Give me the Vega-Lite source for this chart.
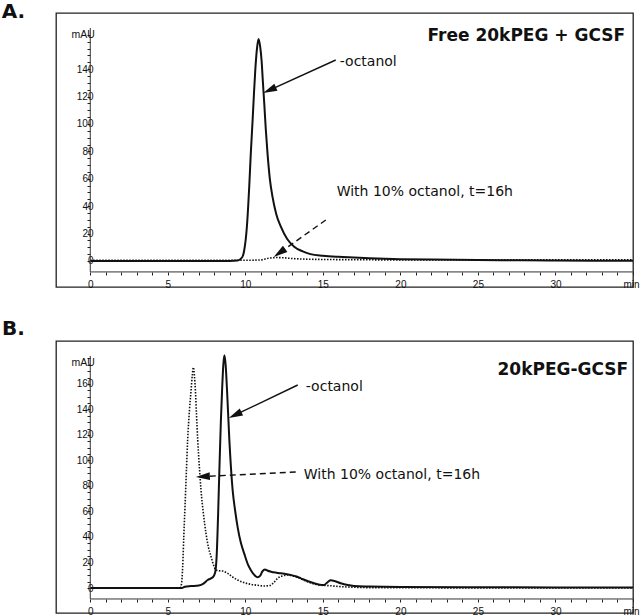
{
  "$schema": "https://vega.github.io/schema/vega-lite/v6.json",
  "background": "white",
  "padding": {"left": 0, "top": 1, "right": 0, "bottom": 0},
  "autosize": {"type": "pad"},
  "spacing": 54,
  "bounds": "flush",
  "config": {
    "view": {"stroke": "#222", "strokeWidth": 1.3},
    "font": "Liberation Sans",
    "axis": {"domain": false, "grid": false, "tickColor": "#222", "tickSize": 3, "labelFont": "Liberation Sans", "labelFontSize": 10, "labelColor": "#111", "labelOverlap": false, "labelFlush": false, "labelBound": false, "title": null}
  },
  "datasets": {
    "a": [
      {"t": 0, "v": 0, "s": "solid"}, {"t": 5, "v": 0, "s": "solid"}, {"t": 9.0, "v": 0, "s": "solid"}, {"t": 9.5, "v": 0.3, "s": "solid"},
      {"t": 9.7, "v": 1.5, "s": "solid"}, {"t": 9.85, "v": 4, "s": "solid"}, {"t": 9.93, "v": 8, "s": "solid"}, {"t": 10.1, "v": 25, "s": "solid"},
      {"t": 10.25, "v": 54, "s": "solid"}, {"t": 10.35, "v": 78, "s": "solid"}, {"t": 10.47, "v": 103, "s": "solid"}, {"t": 10.56, "v": 123, "s": "solid"},
      {"t": 10.64, "v": 139, "s": "solid"}, {"t": 10.75, "v": 155, "s": "solid"}, {"t": 10.85, "v": 162, "s": "solid"}, {"t": 10.95, "v": 157, "s": "solid"},
      {"t": 11.05, "v": 146, "s": "solid"}, {"t": 11.13, "v": 131, "s": "solid"}, {"t": 11.22, "v": 115, "s": "solid"}, {"t": 11.32, "v": 96, "s": "solid"},
      {"t": 11.43, "v": 78.5, "s": "solid"}, {"t": 11.58, "v": 60, "s": "solid"}, {"t": 11.75, "v": 47, "s": "solid"}, {"t": 12.0, "v": 34, "s": "solid"},
      {"t": 12.29, "v": 25, "s": "solid"}, {"t": 12.7, "v": 16, "s": "solid"}, {"t": 13.15, "v": 10.4, "s": "solid"}, {"t": 13.7, "v": 7, "s": "solid"},
      {"t": 14.2, "v": 5, "s": "solid"}, {"t": 15, "v": 3.8, "s": "solid"}, {"t": 16, "v": 3, "s": "solid"}, {"t": 17, "v": 2.5, "s": "solid"},
      {"t": 18, "v": 2, "s": "solid"}, {"t": 20, "v": 1.3, "s": "solid"}, {"t": 22, "v": 1, "s": "solid"}, {"t": 25, "v": 0.7, "s": "solid"},
      {"t": 28, "v": 0.5, "s": "solid"}, {"t": 30, "v": 0.3, "s": "solid"}, {"t": 35, "v": 0.2, "s": "solid"},
      {"t": 0, "v": 0.5, "s": "dotted"}, {"t": 10, "v": 0.5, "s": "dotted"}, {"t": 11, "v": 0.8, "s": "dotted"}, {"t": 11.5, "v": 2, "s": "dotted"},
      {"t": 12, "v": 2.5, "s": "dotted"}, {"t": 12.5, "v": 2.3, "s": "dotted"}, {"t": 13, "v": 1.8, "s": "dotted"}, {"t": 14, "v": 1.3, "s": "dotted"},
      {"t": 16, "v": 1, "s": "dotted"}, {"t": 20, "v": 0.8, "s": "dotted"}, {"t": 35, "v": 0.8, "s": "dotted"}
    ],
    "b": [
      {"t": 0, "v": 0, "s": "solid"}, {"t": 5.9, "v": 0, "s": "solid"}, {"t": 6.1, "v": 1, "s": "solid"}, {"t": 6.5, "v": 1.5, "s": "solid"},
      {"t": 7.0, "v": 2, "s": "solid"}, {"t": 7.3, "v": 3.5, "s": "solid"}, {"t": 7.57, "v": 6.3, "s": "solid"}, {"t": 7.9, "v": 8.4, "s": "solid"},
      {"t": 8.05, "v": 12, "s": "solid"}, {"t": 8.15, "v": 25, "s": "solid"}, {"t": 8.25, "v": 60, "s": "solid"}, {"t": 8.32, "v": 90, "s": "solid"},
      {"t": 8.42, "v": 130, "s": "solid"}, {"t": 8.5, "v": 155, "s": "solid"}, {"t": 8.58, "v": 175, "s": "solid"}, {"t": 8.65, "v": 182.5, "s": "solid"},
      {"t": 8.73, "v": 175, "s": "solid"}, {"t": 8.82, "v": 155, "s": "solid"}, {"t": 8.97, "v": 116, "s": "solid"}, {"t": 9.18, "v": 77, "s": "solid"},
      {"t": 9.35, "v": 60, "s": "solid"}, {"t": 9.5, "v": 48, "s": "solid"}, {"t": 9.7, "v": 36, "s": "solid"}, {"t": 9.93, "v": 27, "s": "solid"},
      {"t": 10.15, "v": 19, "s": "solid"}, {"t": 10.36, "v": 14, "s": "solid"}, {"t": 10.6, "v": 10, "s": "solid"}, {"t": 10.79, "v": 8.4, "s": "solid"},
      {"t": 10.95, "v": 9.5, "s": "solid"}, {"t": 11.1, "v": 13, "s": "solid"}, {"t": 11.26, "v": 14.6, "s": "solid"}, {"t": 11.45, "v": 13.5, "s": "solid"},
      {"t": 11.65, "v": 12.8, "s": "solid"}, {"t": 12.0, "v": 12, "s": "solid"}, {"t": 12.29, "v": 11.5, "s": "solid"}, {"t": 12.6, "v": 11, "s": "solid"},
      {"t": 12.93, "v": 10.2, "s": "solid"}, {"t": 13.3, "v": 9, "s": "solid"}, {"t": 13.58, "v": 7.6, "s": "solid"}, {"t": 14.0, "v": 5.5, "s": "solid"},
      {"t": 14.43, "v": 3.7, "s": "solid"}, {"t": 14.8, "v": 2.6, "s": "solid"}, {"t": 15.08, "v": 2.4, "s": "solid"}, {"t": 15.3, "v": 4.5, "s": "solid"},
      {"t": 15.5, "v": 6, "s": "solid"}, {"t": 15.75, "v": 5.5, "s": "solid"}, {"t": 16.15, "v": 3.7, "s": "solid"}, {"t": 16.6, "v": 2.3, "s": "solid"},
      {"t": 17.0, "v": 1.6, "s": "solid"}, {"t": 18, "v": 1.2, "s": "solid"}, {"t": 20, "v": 0.8, "s": "solid"}, {"t": 25, "v": 0.6, "s": "solid"},
      {"t": 30, "v": 0.4, "s": "solid"}, {"t": 35, "v": 0.3, "s": "solid"},
      {"t": 0, "v": 0, "s": "dotted"}, {"t": 5.8, "v": 0, "s": "dotted"}, {"t": 5.88, "v": 3, "s": "dotted"}, {"t": 5.96, "v": 16.7, "s": "dotted"},
      {"t": 6.03, "v": 40, "s": "dotted"}, {"t": 6.11, "v": 64, "s": "dotted"}, {"t": 6.2, "v": 92, "s": "dotted"}, {"t": 6.28, "v": 116, "s": "dotted"},
      {"t": 6.4, "v": 140, "s": "dotted"}, {"t": 6.5, "v": 155, "s": "dotted"}, {"t": 6.58, "v": 167, "s": "dotted"}, {"t": 6.65, "v": 173, "s": "dotted"},
      {"t": 6.72, "v": 166, "s": "dotted"}, {"t": 6.78, "v": 155, "s": "dotted"}, {"t": 6.85, "v": 136, "s": "dotted"}, {"t": 6.93, "v": 116, "s": "dotted"},
      {"t": 7.03, "v": 96, "s": "dotted"}, {"t": 7.14, "v": 77, "s": "dotted"}, {"t": 7.3, "v": 58, "s": "dotted"}, {"t": 7.46, "v": 43, "s": "dotted"},
      {"t": 7.62, "v": 32, "s": "dotted"}, {"t": 7.79, "v": 24.5, "s": "dotted"}, {"t": 7.95, "v": 18, "s": "dotted"}, {"t": 8.1, "v": 14.1, "s": "dotted"},
      {"t": 8.3, "v": 13.5, "s": "dotted"}, {"t": 8.54, "v": 13.3, "s": "dotted"}, {"t": 8.7, "v": 12.5, "s": "dotted"}, {"t": 8.86, "v": 11.5, "s": "dotted"},
      {"t": 9.1, "v": 9.3, "s": "dotted"}, {"t": 9.5, "v": 6.3, "s": "dotted"}, {"t": 9.9, "v": 4.3, "s": "dotted"}, {"t": 10.36, "v": 2.9, "s": "dotted"},
      {"t": 10.8, "v": 2.1, "s": "dotted"}, {"t": 11.22, "v": 1.6, "s": "dotted"}, {"t": 11.6, "v": 2, "s": "dotted"}, {"t": 11.85, "v": 4.5, "s": "dotted"},
      {"t": 12.08, "v": 7.6, "s": "dotted"}, {"t": 12.4, "v": 9.5, "s": "dotted"}, {"t": 12.72, "v": 10.2, "s": "dotted"}, {"t": 13.0, "v": 9.6, "s": "dotted"},
      {"t": 13.36, "v": 8.4, "s": "dotted"}, {"t": 13.7, "v": 6.5, "s": "dotted"}, {"t": 14.1, "v": 4.5, "s": "dotted"}, {"t": 14.5, "v": 3, "s": "dotted"},
      {"t": 15, "v": 2, "s": "dotted"}, {"t": 15.5, "v": 1.8, "s": "dotted"}, {"t": 16, "v": 1.2, "s": "dotted"}, {"t": 17, "v": 0.6, "s": "dotted"},
      {"t": 18, "v": 0.3, "s": "dotted"}, {"t": 20, "v": 0.2, "s": "dotted"}, {"t": 35, "v": 0, "s": "dotted"}
    ]
  },
  "vconcat": [
    {
      "width": 577,
      "height": 274,
      "layer": [
        {
          "data": {"name": "a"},
          "transform": [{"filter": "datum.s === 'dotted'"}],
          "mark": {"type": "line", "color": "#111", "strokeWidth": 1.6, "strokeDash": [1.5, 1.5], "interpolate": "monotone"},
          "encoding": {
            "x": {"field": "t", "type": "quantitative", "scale": {"domain": [-2.21, 35], "nice": false, "zero": false},
              "axis": {"orient": "bottom", "offset": -15, "tickCount": 1000, "values": [0,1,2,3,4,5,6,7,8,9,10,11,12,13,14,15,16,17,18,19,20,21,22,23,24,25,26,27,28,29,30,31,32,33,34,35], "labelExpr": "datum.value % 5 === 0 ? (datum.value === 35 ? 'min' : '' + datum.value) : ''", "labelOffset": {"condition": {"test": "datum.value === 35", "value": -2}, "value": 0}, "labelPadding": 4, "labelOverlap": false, "labelFlush": false, "labelBound": false, "title": null}},
            "y": {"field": "v", "type": "quantitative", "scale": {"domain": [-19, 181], "nice": false, "zero": false},
              "axis": {"orient": "left", "offset": -34, "tickCount": 1000, "values": [0,5,10,15,20,25,30,35,40,45,50,55,60,65,70,75,80,85,90,95,100,105,110,115,120,125,130,135,140,145,150,155,160,165], "labelExpr": "datum.value % 20 === 0 && datum.value <= 140 ? '' + datum.value : ''", "labelPadding": -6, "labelOverlap": false, "labelFlush": false, "labelBound": false, "title": null}}
          }
        },
        {
          "data": {"name": "a"},
          "transform": [{"filter": "datum.s === 'solid'"}],
          "mark": {"type": "line", "color": "#111", "strokeWidth": 2, "interpolate": "monotone"},
          "encoding": {"x": {"field": "t", "type": "quantitative"}, "y": {"field": "v", "type": "quantitative"}}
        },
        {"data": {"values": [{}]}, "mark": {"type": "rule", "color": "#333", "strokeWidth": 1}, "encoding": {"x": {"datum": 0}, "x2": {"datum": 35}, "y": {"datum": -8}}},
        {"data": {"values": [{}]}, "mark": {"type": "rule", "color": "#333", "strokeWidth": 1}, "encoding": {"x": {"datum": 0}, "y": {"datum": -8}, "y2": {"datum": 170}}},
        {"data": {"values": [{}]}, "mark": {"type": "rule", "color": "#111", "strokeWidth": 1.4}, "encoding": {"x": {"datum": 15.83}, "y": {"datum": 146.7}, "x2": {"datum": 11.56}, "y2": {"datum": 124.7}}},
        {"data": {"values": [{}]}, "mark": {"type": "point", "shape": "M0,-1L0.55,1L-0.55,1Z", "filled": true, "color": "#111", "opacity": 1, "size": 196, "angle": 245.7, "strokeWidth": 0}, "encoding": {"x": {"datum": 11.56}, "y": {"datum": 124.7}}},
        {"data": {"values": [{}]}, "mark": {"type": "rule", "color": "#111", "strokeWidth": 1.4, "strokeDash": [6, 4]}, "encoding": {"x": {"datum": 15.19}, "y": {"datum": 29.9}, "x2": {"datum": 12.2}, "y2": {"datum": 5.9}}},
        {"data": {"values": [{}]}, "mark": {"type": "point", "shape": "M0,-1L0.55,1L-0.55,1Z", "filled": true, "color": "#111", "opacity": 1, "size": 196, "angle": 234.6, "strokeWidth": 0}, "encoding": {"x": {"datum": 12.2}, "y": {"datum": 5.9}}},
        {"data": {"values": [{}]}, "mark": {"type": "text", "text": "-octanol", "font": "DejaVu Sans", "fontSize": 14, "align": "left", "baseline": "middle", "color": "#111"}, "encoding": {"x": {"datum": 16.09}, "y": {"datum": 145.4}}},
        {"data": {"values": [{}]}, "mark": {"type": "text", "text": "With 10% octanol, t=16h", "font": "DejaVu Sans", "fontSize": 14, "align": "left", "baseline": "middle", "color": "#111"}, "encoding": {"x": {"datum": 15.89}, "y": {"datum": 50.5}}},
        {"data": {"values": [{}]}, "mark": {"type": "text", "text": "Free 20kPEG + GCSF", "font": "DejaVu Sans", "fontSize": 17, "fontWeight": "bold", "align": "right", "baseline": "middle", "color": "#111"}, "encoding": {"x": {"datum": 34.49}, "y": {"datum": 164.5}}},
        {"data": {"values": [{}]}, "mark": {"type": "text", "text": "mAU", "font": "Liberation Sans", "fontSize": 10.5, "align": "center", "baseline": "middle", "color": "#111"}, "encoding": {"x": {"datum": -0.45}, "y": {"datum": 164.8}}},
        {"data": {"values": [{}]}, "mark": {"type": "text", "text": "A.", "font": "DejaVu Sans", "fontSize": 20, "fontWeight": "bold", "align": "center", "baseline": "middle", "color": "#111"}, "encoding": {"x": {"datum": -4.96}, "y": {"datum": 181.6}}}
      ]
    },
    {
      "width": 577,
      "height": 272,
      "layer": [
        {
          "data": {"name": "b"},
          "transform": [{"filter": "datum.s === 'dotted'"}],
          "mark": {"type": "line", "color": "#111", "strokeWidth": 1.6, "strokeDash": [1.5, 1.5], "interpolate": "monotone"},
          "encoding": {
            "x": {"field": "t", "type": "quantitative", "scale": {"domain": [-2.21, 35], "nice": false, "zero": false},
              "axis": {"orient": "bottom", "offset": -14, "tickCount": 1000, "values": [0,1,2,3,4,5,6,7,8,9,10,11,12,13,14,15,16,17,18,19,20,21,22,23,24,25,26,27,28,29,30,31,32,33,34,35], "labelExpr": "datum.value % 5 === 0 ? (datum.value === 35 ? 'min' : '' + datum.value) : ''", "labelOffset": {"condition": {"test": "datum.value === 35", "value": -2}, "value": 0}, "labelPadding": 4, "labelOverlap": false, "labelFlush": false, "labelBound": false, "title": null}},
            "y": {"field": "v", "type": "quantitative", "scale": {"domain": [-19.6, 193.7], "nice": false, "zero": false},
              "axis": {"orient": "left", "offset": -34, "tickCount": 1000, "values": [0,5,10,15,20,25,30,35,40,45,50,55,60,65,70,75,80,85,90,95,100,105,110,115,120,125,130,135,140,145,150,155,160,165,170,175,180], "labelExpr": "datum.value % 20 === 0 && datum.value <= 160 ? '' + datum.value : ''", "labelPadding": -6, "labelOverlap": false, "labelFlush": false, "labelBound": false, "title": null}}
          }
        },
        {
          "data": {"name": "b"},
          "transform": [{"filter": "datum.s === 'solid'"}],
          "mark": {"type": "line", "color": "#111", "strokeWidth": 2, "interpolate": "monotone"},
          "encoding": {"x": {"field": "t", "type": "quantitative"}, "y": {"field": "v", "type": "quantitative"}}
        },
        {"data": {"values": [{}]}, "mark": {"type": "rule", "color": "#333", "strokeWidth": 1}, "encoding": {"x": {"datum": 0}, "x2": {"datum": 35}, "y": {"datum": -8.6}}},
        {"data": {"values": [{}]}, "mark": {"type": "rule", "color": "#333", "strokeWidth": 1}, "encoding": {"x": {"datum": 0}, "y": {"datum": -8.6}, "y2": {"datum": 182}}},
        {"data": {"values": [{}]}, "mark": {"type": "rule", "color": "#111", "strokeWidth": 1.4}, "encoding": {"x": {"datum": 13.38}, "y": {"datum": 159.2}, "x2": {"datum": 9.34}, "y2": {"datum": 135.7}}},
        {"data": {"values": [{}]}, "mark": {"type": "point", "shape": "M0,-1L0.55,1L-0.55,1Z", "filled": true, "color": "#111", "opacity": 1, "size": 196, "angle": 244.5, "strokeWidth": 0}, "encoding": {"x": {"datum": 9.34}, "y": {"datum": 135.7}}},
        {"data": {"values": [{}]}, "mark": {"type": "rule", "color": "#111", "strokeWidth": 1.4, "strokeDash": [6, 4]}, "encoding": {"x": {"datum": 13.25}, "y": {"datum": 91.0}, "x2": {"datum": 7.26}, "y2": {"datum": 87.4}}},
        {"data": {"values": [{}]}, "mark": {"type": "point", "shape": "M0,-1L0.55,1L-0.55,1Z", "filled": true, "color": "#111", "opacity": 1, "size": 196, "angle": 267.1, "strokeWidth": 0}, "encoding": {"x": {"datum": 7.26}, "y": {"datum": 87.4}}},
        {"data": {"values": [{}]}, "mark": {"type": "text", "text": "-octanol", "font": "DejaVu Sans", "fontSize": 14, "align": "left", "baseline": "middle", "color": "#111"}, "encoding": {"x": {"datum": 13.9}, "y": {"datum": 158}}},
        {"data": {"values": [{}]}, "mark": {"type": "text", "text": "With 10% octanol, t=16h", "font": "DejaVu Sans", "fontSize": 14, "align": "left", "baseline": "middle", "color": "#111"}, "encoding": {"x": {"datum": 13.77}, "y": {"datum": 88.9}}},
        {"data": {"values": [{}]}, "mark": {"type": "text", "text": "20kPEG-GCSF", "font": "DejaVu Sans", "fontSize": 17, "fontWeight": "bold", "align": "right", "baseline": "middle", "color": "#111"}, "encoding": {"x": {"datum": 34.69}, "y": {"datum": 171}}},
        {"data": {"values": [{}]}, "mark": {"type": "text", "text": "mAU", "font": "Liberation Sans", "fontSize": 10.5, "align": "center", "baseline": "middle", "color": "#111"}, "encoding": {"x": {"datum": -0.45}, "y": {"datum": 176.5}}},
        {"data": {"values": [{}]}, "mark": {"type": "text", "text": "B.", "font": "DejaVu Sans", "fontSize": 20, "fontWeight": "bold", "align": "center", "baseline": "middle", "color": "#111"}, "encoding": {"x": {"datum": -4.96}, "y": {"datum": 203.1}}}
      ]
    }
  ]
}
